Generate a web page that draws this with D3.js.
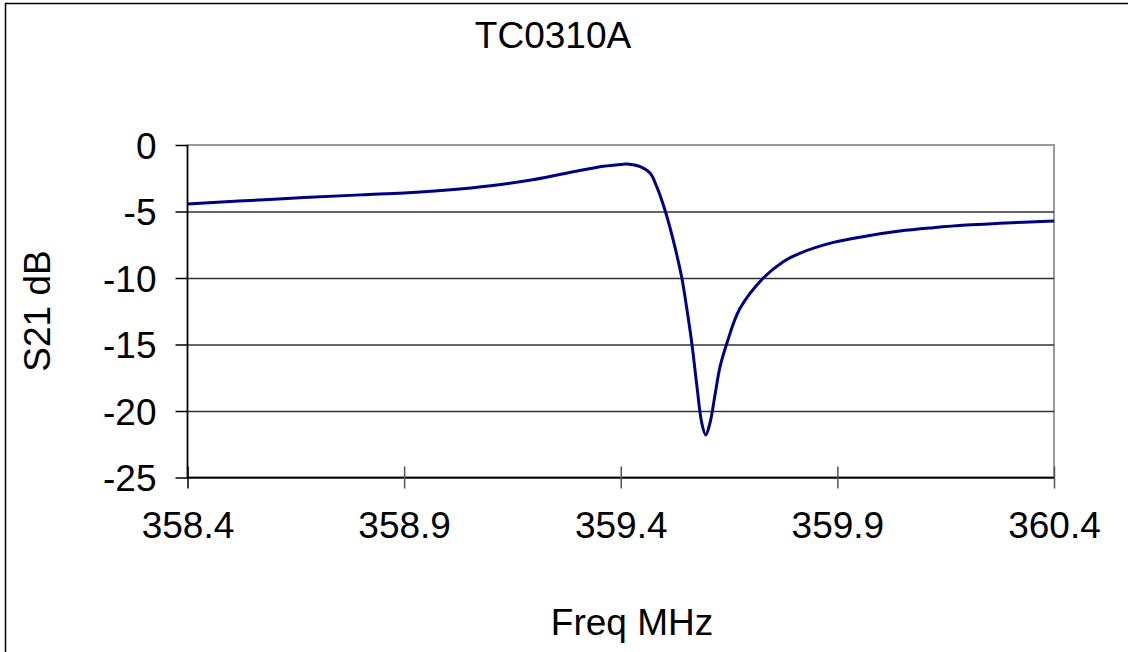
<!DOCTYPE html>
<html>
<head>
<meta charset="utf-8">
<script src="https://cdn.jsdelivr.net/npm/d3@7"></script>
<style>
  html, body { margin: 0; padding: 0; background: #fff; }
  svg { display: block; }
  text { font-family: "Liberation Sans", Arial, sans-serif; fill: #000; }
</style>
</head>
<body>
<script>
// values
var freqMHz = [358.40, 358.60, 358.80, 358.90, 359.00, 359.10, 359.20, 359.30, 359.36,
  359.40, 359.415, 359.445, 359.468, 359.483, 359.502, 359.521, 359.541, 359.552,
  359.564, 359.575, 359.587, 359.596, 359.606, 359.618, 359.629, 359.645,
  359.675, 359.729, 359.775, 359.813, 359.891, 359.968, 360.044, 360.121,
  360.198, 360.275, 360.40];
var s21dB = [-4.44, -4.07, -3.75, -3.60, -3.38, -3.06, -2.60, -1.95, -1.60,
  -1.46, -1.43, -1.63, -2.13, -3.13, -4.89, -7.14, -10.0, -12.2,
  -14.9, -17.9, -20.9, -21.8, -20.9, -18.7, -16.7, -14.9,
  -12.3, -10.0, -8.77, -8.14, -7.32, -6.84, -6.47, -6.22,
  -6.02, -5.89, -5.71];
var xTicks = [358.4, 358.9, 359.4, 359.9, 360.4];
var yTicks = [0, -5, -10, -15, -20, -25];

var width = 1128,
  height = 652;

var plot = { left: 187.5, right: 1054, top: 145, bottom: 477.5 };

var data = freqMHz.map(function(f, i) {
  return { f: f, v: s21dB[i] };
});

var svg = d3.select("body").append("svg")
  .attr("width", width)
  .attr("height", height);

// outer chart frame (runs off the right and bottom of the picture)
svg.append("rect")
  .attr("x", 5.5)
  .attr("y", 3.5)
  .attr("width", 1200)
  .attr("height", 800)
  .style("fill", "none")
  .style("stroke", "#000")
  .style("stroke-width", "1.5px");

var x = d3.scaleLinear()
  .domain([358.4, 360.4])
  .range([plot.left, plot.right]);

var y = d3.scaleLinear()
  .domain([-25, 0])
  .range([plot.bottom, plot.top]);

// plot area border (gray)
svg.append("rect")
  .attr("x", plot.left)
  .attr("y", plot.top)
  .attr("width", plot.right - plot.left)
  .attr("height", plot.bottom - plot.top)
  .style("fill", "none")
  .style("stroke", "#999")
  .style("stroke-width", "2px");

// horizontal gridlines
svg.append("g")
  .attr("class", "grid")
  .attr("transform", "translate(" + plot.left + ",0)")
  .call(d3.axisLeft(y).tickValues(yTicks.filter(function(d) { return d !== 0; }))
    .tickSize(-(plot.right - plot.left)).tickFormat(""))
  .call(function(g) { g.select(".domain").remove(); })
  .selectAll("line")
  .style("stroke", "#333")
  .style("stroke-width", "1.5px");

// y axis (plain hyphen minus like the original)
var yAxis = svg.append("g")
  .attr("transform", "translate(" + plot.left + ",0)")
  .call(d3.axisLeft(y).tickValues(yTicks).tickSize(12).tickPadding(19)
    .tickFormat(function(d) { return String(d); }));
yAxis.select(".domain").attr("d", "M0," + plot.top + "V" + plot.bottom)
  .style("stroke", "#000").style("stroke-width", "1.5px");
yAxis.selectAll("line").style("stroke", "#000").style("stroke-width", "1.5px");
yAxis.selectAll("text")
  .style("font-size", "37px")
  .style("font-family", "'Liberation Sans', Arial, sans-serif")
  .attr("dy", "0.36em");

// x axis, ticks cross the line
var xAxis = svg.append("g")
  .attr("transform", "translate(0," + plot.bottom + ")")
  .call(d3.axisBottom(x).tickValues(xTicks).tickSize(11).tickPadding(23)
    .tickFormat(d3.format(".1f")));
xAxis.select(".domain").attr("d", "M" + plot.left + ",0H" + plot.right)
  .style("stroke", "#000").style("stroke-width", "1.5px");
xAxis.selectAll("line").attr("y1", -11)
  .style("stroke", function(d, i) { return i === 0 ? "#000" : "#555"; })
  .style("stroke-width", "1.5px");
xAxis.selectAll("text")
  .style("font-size", "37px")
  .style("font-family", "'Liberation Sans', Arial, sans-serif")
  .attr("dy", "0.71em");

// curve
var line = d3.line()
  .x(function(d) { return x(d.f); })
  .y(function(d) { return y(d.v); })
  .curve(d3.curveCatmullRom.alpha(0.5));

svg.append("path")
  .datum(data)
  .attr("d", line)
  .style("fill", "none")
  .style("stroke", "#000080")
  .style("stroke-width", "3px")
  .style("stroke-linejoin", "round");

// title and axis labels
svg.append("text")
  .attr("x", 553)
  .attr("y", 48)
  .style("text-anchor", "middle")
  .style("font-size", "37px")
  .text("TC0310A");

svg.append("text")
  .attr("x", 632)
  .attr("y", 635)
  .style("text-anchor", "middle")
  .style("font-size", "37px")
  .text("Freq MHz");

svg.append("text")
  .attr("transform", "translate(50,311) rotate(-90)")
  .style("text-anchor", "middle")
  .style("font-size", "37px")
  .text("S21 dB");
</script>
</body>
</html>
